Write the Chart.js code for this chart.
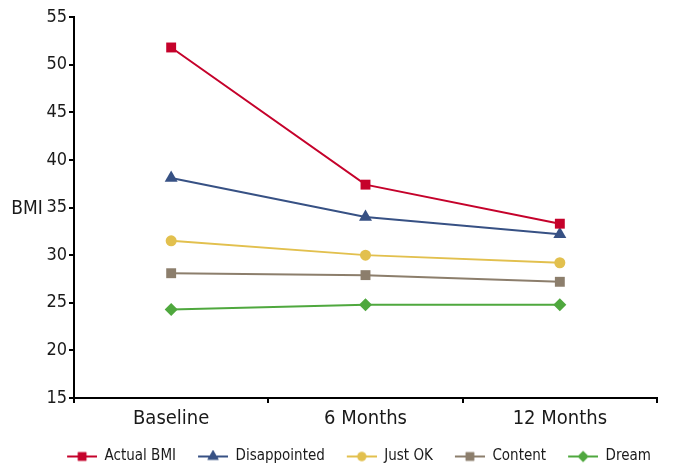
<!DOCTYPE html>
<html>
<head>
<meta charset="utf-8">
<script src="https://cdn.jsdelivr.net/npm/chart.js@4.4.0/dist/chart.umd.min.js"></script>
<style>
  html, body { margin: 0; padding: 0; background: #fff; }
  #wrap { width: 673px; height: 465px; }
</style>
</head>
<body>
<div id="wrap"><canvas id="graficoBmi"></canvas></div>
<script>
// dados
var periodos = ["Baseline", "6 Months", "12 Months"];
var actualBmi = [51.8, 37.4, 33.3];
var disappointed = [38.1, 34.0, 32.2];
var justOk = [31.5, 30.0, 29.2];
var content = [28.1, 27.9, 27.2];
var dream = [24.3, 24.8, 24.8];
var yTicks = [15, 20, 25, 30, 35, 40, 45, 50, 55];

var fonte = "'Liberation Sans Narrow', 'DejaVu Sans Condensed', 'Arial Narrow', sans-serif";

// icone da legenda: linha + marcador (margem transparente a esquerda)
function iconeLegenda(cor, estilo, raio) {
    var c = document.createElement('canvas');
    c.width = 46; c.height = 14;
    var g = c.getContext('2d');
    g.strokeStyle = cor;
    g.lineWidth = 2;
    g.beginPath();
    g.moveTo(16, 7); g.lineTo(46, 7);
    g.stroke();
    g.fillStyle = cor;
    Chart.helpers.drawPoint(g, { pointStyle: estilo, radius: raio, borderWidth: 0 }, 31, 7);
    g.fill();
    return c;
}

var series = [
    { label: "Actual BMI", data: actualBmi, cor: "#C5022B", estilo: "rect", raio: 7, raioLeg: 6 },
    { label: "Disappointed", data: disappointed, cor: "#375184", estilo: "triangle", raio: 7.5, raioLeg: 6.5 },
    { label: "Just OK", data: justOk, cor: "#E2C04E", estilo: "circle", raio: 5.5, raioLeg: 4.5 },
    { label: "Content", data: content, cor: "#8C7E6C", estilo: "rect", raio: 7, raioLeg: 6 },
    { label: "Dream", data: dream, cor: "#4FA83E", estilo: "rectRot", raio: 6.5, raioLeg: 5.5 }
];

var datasets = series.map(function (s) {
    return {
        label: s.label,
        data: s.data,
        borderColor: s.cor,
        backgroundColor: s.cor,
        pointBackgroundColor: s.cor,
        pointBorderColor: s.cor,
        pointBorderWidth: 0,
        pointStyle: s.estilo,
        pointRadius: s.raio,
        pointHoverRadius: s.raio,
        borderWidth: 2,
        tension: 0
    };
});

var icones = series.map(function (s) { return iconeLegenda(s.cor, s.estilo, s.raioLeg); });

// titulo "BMI" horizontal
var tituloBmi = {
    id: 'tituloBmi',
    afterDraw: function (chart) {
        var y = chart.scales.y;
        var ctx = chart.ctx;
        ctx.save();
        ctx.font = "19px " + fonte;
        ctx.fillStyle = "#1a1a1a";
        ctx.textAlign = "center";
        ctx.textBaseline = "middle";
        ctx.fillText("BMI", 27, y.getPixelForValue(34.8));
        ctx.restore();
    }
};

var grafico = new Chart(document.getElementById('graficoBmi').getContext('2d'), {
    type: 'line',
    data: { labels: periodos, datasets: datasets },
    plugins: [tituloBmi],
    options: {
        responsive: true,
        maintainAspectRatio: false,
        animation: false,
        layout: { padding: { top: 17, right: 16, left: 45, bottom: -9 } },
        plugins: {
            tooltip: { enabled: false },
            legend: {
                position: 'bottom',
                labels: {
                    usePointStyle: true,
                    pointStyleWidth: 46,
                    padding: 6,
                    color: "#1a1a1a",
                    font: { family: fonte, size: 15 },
                    generateLabels: function (chart) {
                        var itens = Chart.defaults.plugins.legend.labels.generateLabels(chart);
                        itens.forEach(function (it, i) { it.pointStyle = icones[i]; });
                        return itens;
                    }
                }
            }
        },
        scales: {
            x: {
                offset: true,
                afterFit: function (s) { s.height = 45; },
                grid: { display: true, offset: true, drawOnChartArea: false, tickLength: 5, color: "#000", lineWidth: 2 },
                border: { display: true, color: "#000", width: 2 },
                ticks: { color: "#1a1a1a", padding: 4, font: { family: fonte, size: 20 } }
            },
            y: {
                min: 15,
                max: 55,
                afterFit: function (s) { s.width = 29; },
                afterBuildTicks: function (s) { s.ticks = yTicks.map(function (v) { return { value: v }; }); },
                grid: { display: true, drawOnChartArea: false, tickLength: 5, color: "#000", lineWidth: 2 },
                border: { display: true, color: "#000", width: 2 },
                ticks: { color: "#1a1a1a", padding: 2, font: { family: fonte, size: 18 } }
            }
        }
    }
});
</script>
</body>
</html>
